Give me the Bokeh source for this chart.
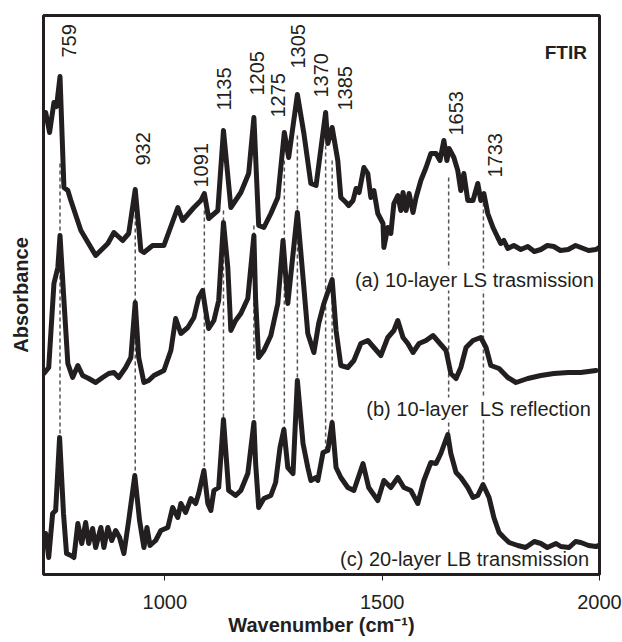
from bokeh.plotting import figure
from bokeh.models import FixedTicker, Label, ColumnDataSource, Range1d
from bokeh.core.properties import value
from bokeh.embed import file_html
from bokeh.resources import INLINE
import math

# ---- data (wavenumber, absorbance offset-stacked, arbitrary units) ----
wn_a = [722, 726, 735, 745, 751, 759, 768, 777, 784, 807, 841, 869, 883, 903, 917, 932,
        945, 952, 972, 998, 1030, 1041, 1067, 1083, 1091, 1101, 1122, 1135, 1152, 1175,
        1193, 1205, 1216, 1228, 1244, 1260, 1275, 1285, 1305, 1320, 1336, 1348, 1370,
        1375, 1385, 1398, 1405, 1417, 1423, 1433, 1440, 1447, 1458, 1467, 1474, 1481,
        1490, 1502, 1504, 1513, 1520, 1527, 1536, 1543, 1548, 1555, 1562, 1571, 1578,
        1589, 1601, 1612, 1624, 1633, 1642, 1649, 1654, 1665, 1674, 1681, 1688, 1697,
        1709, 1720, 1727, 1734, 1743, 1755, 1766, 1773, 1780, 1789, 1803, 1819, 1835,
        1850, 1865, 1880, 1895, 1910, 1928, 1945, 1957, 1975, 1992, 1999]
ab_a = [4.62, 4.62, 4.42, 4.72, 4.68, 4.98, 3.87, 3.84, 3.74, 3.44, 3.19, 3.31, 3.42, 3.34, 3.41, 3.85,
        3.24, 3.22, 3.29, 3.29, 3.67, 3.54, 3.67, 3.74, 3.81, 3.56, 3.64, 4.44, 3.67, 3.82,
        4.01, 4.57, 3.49, 3.47, 3.61, 3.77, 4.42, 4.17, 4.80, 4.41, 3.91, 3.89, 4.62,
        4.31, 4.47, 4.14, 3.77, 3.72, 3.69, 3.74, 3.86, 3.82, 4.07, 4.01, 3.77, 3.84,
        3.61, 3.51, 3.27, 3.47, 3.41, 3.71, 3.79, 3.64, 3.82, 3.64, 3.81, 3.62, 3.77,
        3.94, 4.07, 4.21, 4.21, 4.14, 4.34, 4.14, 4.26, 4.17, 4.04, 3.84, 4.01, 3.74,
        3.74, 3.91, 3.74, 3.81, 3.61, 3.47, 3.37, 3.31, 3.34, 3.26, 3.29, 3.25, 3.28,
        3.23, 3.25, 3.29, 3.28, 3.24, 3.25, 3.29, 3.27, 3.24, 3.25, 3.27]

wn_b = [722, 733, 745, 754, 759, 768, 777, 788, 800, 811, 825, 841, 857, 871, 883, 894,
        910, 922, 932, 940, 952, 963, 975, 998, 1014, 1025, 1037, 1053, 1067, 1078, 1087,
        1094, 1101, 1113, 1124, 1135, 1145, 1152, 1163, 1175, 1191, 1205, 1209, 1216,
        1228, 1244, 1260, 1272, 1283, 1305, 1318, 1329, 1343, 1354, 1366, 1385, 1394,
        1405, 1421, 1435, 1451, 1467, 1481, 1497, 1513, 1527, 1536, 1548, 1559, 1571,
        1585, 1601, 1617, 1631, 1647, 1658, 1670, 1681, 1693, 1709, 1727, 1739, 1750,
        1769, 1789, 1808, 1835, 1865, 1895, 1928, 1957, 1992]
ab_b = [2.01, 2.07, 2.91, 3.07, 3.39, 2.74, 2.11, 1.97, 2.09, 1.99, 1.96, 1.92, 1.97, 2.01, 2.02, 1.97,
        2.07, 2.17, 2.72, 2.17, 1.92, 1.94, 1.99, 2.04, 2.24, 2.56, 2.41, 2.47, 2.57, 2.77, 2.84,
        2.64, 2.46, 2.54, 2.74, 3.52, 3.07, 2.44, 2.54, 2.61, 2.76, 3.39, 2.74, 2.17,
        2.24, 2.39, 2.71, 3.34, 2.71, 3.62, 2.97, 2.41, 2.22, 2.51, 2.71, 2.95, 2.44,
        2.09, 2.07, 2.14, 2.31, 2.34, 2.27, 2.19, 2.37, 2.44, 2.54, 2.37, 2.31, 2.22,
        2.31, 2.34, 2.39, 2.32, 2.24, 2.01, 1.96, 2.07, 2.27, 2.34, 2.37, 2.27, 2.09,
        2.06, 1.97, 1.92, 1.96, 1.99, 2.01, 2.02, 2.02, 2.04]

wn_c = [726, 733, 742, 749, 758, 767, 774, 784, 791, 800, 809, 818, 825, 834, 841, 853,
        860, 869, 878, 887, 896, 906, 917, 931, 942, 952, 959, 966, 979, 991, 1007, 1018,
        1030, 1037, 1048, 1060, 1071, 1078, 1090, 1099, 1106, 1113, 1124, 1135, 1147,
        1163, 1175, 1191, 1205, 1209, 1216, 1228, 1244, 1255, 1265, 1274, 1283, 1295,
        1305, 1318, 1329, 1336, 1348, 1352, 1364, 1375, 1385, 1394, 1405, 1421, 1435,
        1456, 1469, 1490, 1504, 1520, 1536, 1550, 1566, 1582, 1596, 1612, 1624, 1635,
        1651, 1658, 1670, 1681, 1697, 1709, 1720, 1732, 1746, 1757, 1769, 1780, 1792,
        1812, 1830, 1850, 1865, 1880, 1900, 1911, 1930, 1945, 1957, 1975, 1992, 1999]
ab_c = [0.41, 0.17, 0.61, 0.64, 1.37, 0.61, 0.21, 0.19, 0.17, 0.51, 0.31, 0.52, 0.31, 0.46, 0.27, 0.47,
        0.27, 0.47, 0.34, 0.44, 0.37, 0.21, 0.54, 0.99, 0.54, 0.27, 0.47, 0.29, 0.34, 0.44, 0.47, 0.67,
        0.57, 0.71, 0.62, 0.76, 0.71, 0.81, 1.04, 0.71, 0.64, 0.84, 0.87, 1.55, 0.84,
        0.79, 0.84, 1.01, 1.52, 1.11, 0.67, 0.76, 0.79, 0.92, 1.27, 1.45, 1.07, 1.01,
        1.94, 1.31, 1.07, 0.94, 0.97, 0.94, 1.22, 1.24, 1.52, 1.07, 0.97, 0.87, 0.84,
        1.11, 0.87, 0.74, 0.94, 0.87, 0.97, 0.87, 0.84, 0.71, 0.94, 1.12, 1.11, 1.21,
        1.40, 1.21, 1.02, 0.97, 0.87, 0.77, 0.79, 0.90, 0.77, 0.57, 0.42, 0.37, 0.32,
        0.29, 0.27, 0.33, 0.31, 0.27, 0.31, 0.28, 0.27, 0.33, 0.32, 0.29, 0.28, 0.29]

# marked peaks and their dashed guide extents
peaks = [759, 932, 1091, 1135, 1205, 1275, 1305, 1370, 1385, 1653, 1733]
dash_top = [4.11, 3.74, 3.64, 3.64, 3.49, 4.14, 4.39, 4.29, 4.14, 3.97, 3.79]
dash_bottom = [1.37, 0.97, 1.02, 1.55, 1.52, 1.45, 1.94, 1.24, 1.52, 1.40, 0.90]
label_x = [780, 951, 1083, 1137, 1211, 1260, 1307, 1359, 1414, 1671, 1759]
label_y = [5.17, 4.09, 3.87, 4.64, 4.79, 4.57, 5.06, 4.77, 4.64, 4.39, 3.97]

x_ticks = [1000, 1500, 2000]
series_names = ["(a) 10-layer LS trasmission", "(b) 10-layer \u00a0LS reflection",
                "(c) 20-layer LB transmission"]

INK = "#231f20"
FONT = "Liberation Sans"

p = figure(width=622, height=642, x_range=Range1d(721, 2000), y_range=Range1d(0, 5.59),
           output_backend="svg", toolbar_location=None,
           min_border_left=43, min_border_right=23, min_border_top=15, min_border_bottom=68)
p.background_fill_color = "white"
p.border_fill_color = "white"
p.grid.visible = False
p.outline_line_color = INK
p.outline_line_width = 3

xa = p.xaxis[0]
xa.ticker = FixedTicker(ticks=x_ticks)
xa.minor_tick_line_color = None
xa.major_tick_in = 0
xa.major_tick_out = 6
xa.major_tick_line_color = INK
xa.axis_line_color = None
xa.major_label_text_font = FONT
xa.major_label_text_font_size = "20px"
xa.major_label_text_color = INK
xa.major_label_standoff = 14
xa.axis_label = "Wavenumber (cm\u207b\u00b9)"
xa.axis_label_text_font = FONT
xa.axis_label_text_font_style = "bold"
xa.axis_label_text_font_size = "20px"
xa.axis_label_text_color = INK
xa.axis_label_standoff = 2

ya = p.yaxis[0]
ya.ticker = FixedTicker(ticks=[])
ya.axis_line_color = None
ya.major_tick_line_color = None
ya.minor_tick_line_color = None
ya.major_label_text_font_size = "0px"
ya.axis_label = "Absorbance"
ya.axis_label_text_font = FONT
ya.axis_label_text_font_style = "bold"
ya.axis_label_text_font_size = "20px"
ya.axis_label_text_color = INK
ya.axis_label_standoff = 12

# dashed guides (under curves)
p.segment(x0=peaks, y0=dash_top, x1=peaks, y1=dash_bottom,
          line_color="#555555", line_width=1.5, line_dash="4 3")

for wn, ab in [(wn_a, ab_a), (wn_b, ab_b), (wn_c, ab_c)]:
    p.line(wn, ab, line_color=INK, line_width=5, line_join="round", line_cap="round")

src = ColumnDataSource(dict(x=label_x, y=label_y, t=[str(v) for v in peaks]))
p.text(x="x", y="y", text="t", source=src, angle=math.pi / 2,
       text_align="left", text_baseline="middle", text_font=value(FONT),
       text_font_size="20px", text_color=INK)

p.add_layout(Label(x=1971, y=5.22, text="FTIR", text_align="right", text_baseline="middle",
                   text_font=FONT, text_font_size="19px", text_font_style="bold", text_color=INK))

for i, (name, (lx, ly)) in enumerate(zip(series_names, [(1987, 2.95), (1980, 1.66), (1976, 0.16)])):
    p.add_layout(Label(x=lx, y=ly, text=name, text_align="right", text_baseline="middle",
                       text_font=FONT, text_font_size="20px", text_color=INK,
                       background_fill_color="white" if i < 2 else None))

open("out.html", "w").write(file_html(p, INLINE))
